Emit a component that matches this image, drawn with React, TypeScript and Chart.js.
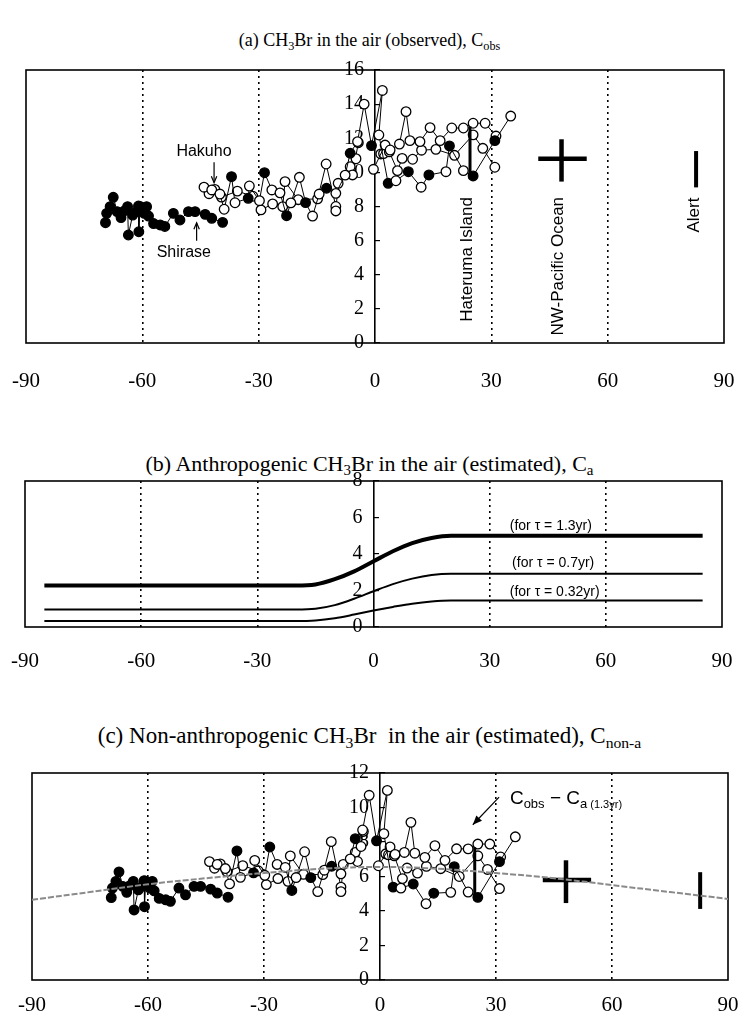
import React, { useEffect, useRef } from 'react';
import { Chart, registerables } from 'chart.js';
Chart.register(...registerables);

const W = 739;
const SERIF = '"Liberation Serif", "Times New Roman", serif';
const SANS = '"Liberation Sans", Arial, sans-serif';

// ---------------- data ----------------
const xMin = -90;
const xMax = 90;
const xStep = 30;
const dottedLats = [-60, -30, 30, 60];

// (a) observed CH3Br, Shirase cruise (southern part, filled circles)
const shiraseLat = [-69.5, -69.2, -68.3, -67.5, -66.5, -65.5, -64.6, -63.8, -63.6, -62.5, -61.5, -61.0, -60.9, -60.6, -59.5, -58.9, -58.4, -57.1, -55.4, -54.2, -52.0, -50.3, -48.1, -46.4, -43.8, -42.1, -39.3];
const shiraseVal = [7.05, 7.6, 7.99, 8.54, 7.7, 7.35, 7.75, 7.99, 6.33, 7.5, 7.7, 8.03, 6.52, 8.0, 7.6, 7.99, 7.44, 7.0, 6.92, 6.83, 7.6, 7.21, 7.7, 7.7, 7.54, 7.31, 7.07];

// (a) Hakuho cruise, main track (1 = filled marker, 0 = open marker)
const hakuhoALat = [-44.1, -42.1, -40.0, -38.9, -37.0, -36.1, -32.7, -32.4, -29.8, -28.5, -26.6, -24.5, -22.8, -21.7, -19.5, -17.9, -16.1, -14.4, -12.5, -10.1, -7.7, -6.4, -4.5, -2.8, -0.9, 1.9, 1.0, 3.4, 5.4, 8.6, 11.9, 13.9, 18.3, 19.2, 22.8, 25.3, 30.9, 35.0];
const hakuhoAVal = [9.13, 8.97, 8.73, 7.84, 9.75, 8.22, 8.48, 9.2, 8.34, 9.98, 8.97, 8.8, 7.46, 8.21, 9.71, 8.23, 7.44, 8.73, 9.07, 8.77, 9.84, 11.12, 11.8, 14.0, 11.57, 14.8, 12.19, 9.36, 9.51, 10.04, 9.13, 9.85, 10.04, 11.55, 10.1, 9.79, 11.86, 13.3];
const hakuhoAFilled = [0, 0, 0, 0, 1, 0, 1, 0, 0, 1, 0, 0, 1, 0, 0, 1, 0, 0, 1, 0, 0, 1, 0, 0, 1, 0, 0, 1, 0, 1, 0, 1, 0, 1, 0, 1, 1, 0];

// (a) other open-circle tracks
const hakuhoBLat = [-42.8, -41.3, -39.6, -35.5, -31.5, -29.4, -26.4, -23.8, -23.2, -19.8, -14.8, -12.6, -10.1, -10.1, -9.5, -6.4, -4.9, -5.8, -4.3];
const hakuhoBVal = [8.75, 9.0, 8.55, 8.9, 8.6, 7.8, 8.15, 7.99, 9.46, 8.4, 8.45, 10.49, 8.0, 7.74, 9.36, 10.33, 10.8, 9.85, 11.74];
const hakuhoCLat = [-0.4, 2.6, 3.9, 6.3, 8.0, 9.0, 11.6, 14.2, 16.8, 19.8, 22.8, 25.3, 28.4, 31.2];
const hakuhoCVal = [10.18, 11.6, 11.31, 11.66, 13.56, 11.86, 11.8, 12.62, 11.86, 12.6, 12.6, 12.88, 12.88, 12.13];
const hakuhoDLat = [1.5, 2.2, 3.7, 5.8, 7.0, 9.7, 12.0, 15.7, 20.5, 25.3, 27.8, 30.9];
const hakuhoDVal = [11.08, 11.1, 11.2, 10.1, 10.82, 10.77, 11.3, 11.35, 11.0, 12.2, 11.41, 10.3];

// station ranges
const haterumaLat = [24.5, 24.5];
const haterumaVal = [9.6, 12.7];
const nwPacificHLat = [42.1, 54.6];
const nwPacificHVal = [10.8, 10.8];
const nwPacificVLat = [48.1, 48.1];
const nwPacificVVal = [9.46, 11.94];
const alertLat = [82.8, 82.8];
const alertVal = [9.12, 11.25];

// (b) anthropogenic CH3Br
const caLat = [-85, -20, -15, -10, -5, 0, 5, 10, 15, 20, 85];
const ca13 = [2.27, 2.27, 2.33, 2.62, 3.05, 3.6, 4.15, 4.6, 4.88, 5.0, 5.0];
const ca07 = [0.96, 0.96, 1.0, 1.2, 1.55, 1.96, 2.35, 2.65, 2.85, 2.92, 2.92];
const ca032 = [0.33, 0.33, 0.36, 0.48, 0.68, 0.9, 1.1, 1.28, 1.4, 1.45, 1.45];

// (c) fitted non-anthropogenic curve
const trendLat = [-90, -75, -60, -45, -30, -15, 0, 15, 30, 45, 60, 75, 90];
const trendVal = [4.65, 5.1, 5.55, 5.9, 6.2, 6.45, 6.55, 6.45, 6.2, 5.9, 5.5, 5.1, 4.7];

// ---------------- helpers ----------------
const pts = (lat: number[], val: number[]) => lat.map((x, i) => ({ x, y: val[i] }));
const caAt = (lat: number) => {
  if (lat <= caLat[0]) return ca13[0];
  for (let i = 1; i < caLat.length; i++) {
    if (lat <= caLat[i]) {
      const t = (lat - caLat[i - 1]) / (caLat[i] - caLat[i - 1]);
      return ca13[i - 1] + t * (ca13[i] - ca13[i - 1]);
    }
  }
  return ca13[ca13.length - 1];
};
const minusCa = (lat: number[], val: number[]) => val.map((v, i) => v - caAt(lat[i]));

function frame(T: number, B: number, L: number, R: number, labelY: number, fs: number) {
  const lh = fs * 1.2;
  const pad = labelY - B - lh / 2;
  const canvasTop = T - 15;
  const height = Math.round(B - canvasTop + lh + 2 * pad);
  return { canvasTop, height, pad, padL: L, padR: W - R };
}

const markerSeries = (data: any[], fill: string | string[]) => ({
  data,
  showLine: true,
  borderColor: '#000',
  borderWidth: 1,
  tension: 0,
  pointRadius: 4.8,
  pointHoverRadius: 4.8,
  pointBorderColor: '#000',
  pointBorderWidth: 1.3,
  pointBackgroundColor: fill,
});
const barSeries = (data: any[], w: number) => ({
  data,
  showLine: true,
  borderColor: '#000',
  borderWidth: w,
  borderCapStyle: 'butt',
  pointRadius: 0,
  pointHoverRadius: 0,
});

function obsDatasets(tr: (lat: number[], val: number[]) => number[]) {
  return [
    barSeries(pts(haterumaLat, tr(haterumaLat, haterumaVal)), 3),
    barSeries(pts(nwPacificHLat, tr(nwPacificHLat, nwPacificHVal)), 4.5),
    barSeries(pts(nwPacificVLat, tr(nwPacificVLat, nwPacificVVal)), 4.5),
    barSeries(pts(alertLat, tr(alertLat, alertVal)), 4),
    markerSeries(pts(hakuhoALat, tr(hakuhoALat, hakuhoAVal)), hakuhoAFilled.map((f) => (f ? '#000' : '#fff'))),
    markerSeries(pts(hakuhoCLat, tr(hakuhoCLat, hakuhoCVal)), '#fff'),
    markerSeries(pts(hakuhoDLat, tr(hakuhoDLat, hakuhoDVal)), '#fff'),
    markerSeries(pts(hakuhoBLat, tr(hakuhoBLat, hakuhoBVal)), '#fff'),
    markerSeries(pts(shiraseLat, tr(shiraseLat, shiraseVal)), '#000'),
  ];
}

const boxPlugin = {
  id: 'box',
  beforeDatasetsDraw(chart: any) {
    const { ctx, chartArea } = chart;
    ctx.save();
    ctx.strokeStyle = '#000';
    ctx.lineWidth = 1.6;
    ctx.strokeRect(chartArea.left, chartArea.top, chartArea.right - chartArea.left, chartArea.bottom - chartArea.top);
    ctx.restore();
  },
};

function drawArrow(ctx: any, x1: number, y1: number, x2: number, y2: number, head: number, filled: boolean) {
  ctx.beginPath();
  ctx.moveTo(x1, y1);
  ctx.lineTo(x2, y2);
  ctx.stroke();
  const a = Math.atan2(y2 - y1, x2 - x1);
  const h1x = x2 - head * Math.cos(a - 0.4), h1y = y2 - head * Math.sin(a - 0.4);
  const h2x = x2 - head * Math.cos(a + 0.4), h2y = y2 - head * Math.sin(a + 0.4);
  ctx.beginPath();
  if (filled) {
    ctx.moveTo(x2, y2);
    ctx.lineTo(h1x, h1y);
    ctx.lineTo(h2x, h2y);
    ctx.closePath();
    ctx.fill();
  } else {
    ctx.moveTo(h1x, h1y);
    ctx.lineTo(x2, y2);
    ctx.lineTo(h2x, h2y);
    ctx.stroke();
  }
}

function annotPlugin(items: any[]) {
  return {
    id: 'annot',
    afterDatasetsDraw(chart: any) {
      const { ctx } = chart;
      const sx = chart.scales.x, sy = chart.scales.y;
      ctx.save();
      ctx.fillStyle = '#000';
      ctx.strokeStyle = '#000';
      for (const it of items) {
        if (it.kind === 'text') {
          ctx.save();
          ctx.translate(sx.getPixelForValue(it.x), sy.getPixelForValue(it.y));
          if (it.rot) ctx.rotate(it.rot);
          ctx.font = it.font;
          ctx.textAlign = 'center';
          ctx.textBaseline = 'middle';
          ctx.fillText(it.text, 0, 0);
          ctx.restore();
        } else if (it.kind === 'rich') {
          let px = sx.getPixelForValue(it.x);
          const py = sy.getPixelForValue(it.y);
          ctx.textAlign = 'left';
          ctx.textBaseline = 'alphabetic';
          for (const s of it.parts) {
            ctx.font = `${s.size}px ${SANS}`;
            ctx.fillText(s.t, px, py + s.dy);
            px += ctx.measureText(s.t).width;
          }
        } else if (it.kind === 'arrow') {
          ctx.lineWidth = it.w || 1.2;
          drawArrow(ctx, sx.getPixelForValue(it.x1), sy.getPixelForValue(it.y1), sx.getPixelForValue(it.x2), sy.getPixelForValue(it.y2), it.head, it.filled);
        }
      }
      ctx.restore();
    },
  };
}

const noOverhang = (s: any) => {
  s.paddingLeft = 0;
  s.paddingRight = 0;
  s.paddingTop = 0;
  s.paddingBottom = 0;
};

function makeOptions(f: any, yMax: number) {
  return {
    responsive: false,
    maintainAspectRatio: false,
    animation: false,
    events: [],
    layout: { padding: { left: f.padL, right: f.padR, top: 15, bottom: 0 } },
    plugins: { legend: { display: false }, tooltip: { enabled: false }, title: { display: false } },
    scales: {
      x: {
        type: 'linear',
        min: xMin,
        max: xMax,
        position: 'bottom',
        afterFit: noOverhang,
        ticks: { stepSize: xStep, padding: f.pad, color: '#000', font: { family: SERIF, size: 21 }, maxRotation: 0, autoSkip: false },
        grid: {
          drawTicks: false,
          lineWidth: 1.6,
          color: (c: any) => (c.tick && dottedLats.includes(c.tick.value) ? '#000' : 'rgba(0,0,0,0)'),
        },
        border: { display: false, dash: [2, 4] },
      },
      y: {
        type: 'linear',
        min: 0,
        max: yMax,
        position: 'center',
        afterFit: noOverhang,
        ticks: { stepSize: 2, padding: 17, color: '#000', font: { family: SERIF, size: 20 } },
        grid: { drawOnChartArea: false, drawTicks: true, tickLength: -6, color: '#000', lineWidth: 1.2 },
        border: { display: true, color: '#000', width: 1.6 },
      },
    },
  };
}

// ---------------- frames ----------------
const fA = frame(70, 343, 26, 724, 381, 21);
const fB = frame(481, 627, 25, 722, 661, 21);
const fC = frame(773, 980, 32, 728, 1005, 21);

function buildA() {
  return {
    type: 'scatter',
    data: { datasets: obsDatasets((lat, val) => val) },
    options: makeOptions(fA, 16),
    plugins: [
      boxPlugin,
      annotPlugin([
        { kind: 'text', text: 'Hakuho', x: -44.1, y: 11.2, font: `16px ${SANS}` },
        { kind: 'arrow', x1: -41.5, y1: 10.6, x2: -41.5, y2: 9.4, head: 7, filled: false },
        { kind: 'text', text: 'Shirase', x: -49.3, y: 5.28, font: `16px ${SANS}` },
        { kind: 'arrow', x1: -46, y1: 6.0, x2: -46, y2: 7.05, head: 7, filled: false },
        { kind: 'text', text: 'Hateruma Island', x: 23.7, y: 4.9, rot: -Math.PI / 2, font: `17px ${SANS}` },
        { kind: 'text', text: 'NW-Pacific Ocean', x: 47.4, y: 4.5, rot: -Math.PI / 2, font: `17px ${SANS}` },
        { kind: 'text', text: 'Alert', x: 82.3, y: 7.5, rot: -Math.PI / 2, font: `17px ${SANS}` },
      ]),
    ],
  };
}

function buildB() {
  const curve = (val: number[], w: number) => ({
    data: pts(caLat, val),
    showLine: true,
    borderColor: '#000',
    borderWidth: w,
    pointRadius: 0,
    pointHoverRadius: 0,
    cubicInterpolationMode: 'monotone',
  });
  return {
    type: 'scatter',
    data: { datasets: [curve(ca13, 4), curve(ca07, 2), curve(ca032, 2)] },
    options: makeOptions(fB, 8),
    plugins: [
      boxPlugin,
      annotPlugin([
        { kind: 'text', text: '(for τ = 1.3yr)', x: 45.8, y: 5.5, font: `14px ${SANS}` },
        { kind: 'text', text: '(for τ = 0.7yr)', x: 46.4, y: 3.5, font: `14px ${SANS}` },
        { kind: 'text', text: '(for τ = 0.32yr)', x: 46.8, y: 1.9, font: `14px ${SANS}` },
      ]),
    ],
  };
}

function buildC() {
  const trend = {
    data: pts(trendLat, trendVal),
    showLine: true,
    borderColor: '#8a8a8a',
    borderWidth: 2,
    borderDash: [6, 2],
    pointRadius: 0,
    pointHoverRadius: 0,
    tension: 0.4,
  };
  return {
    type: 'scatter',
    data: { datasets: [trend, ...obsDatasets(minusCa)] },
    options: makeOptions(fC, 12),
    plugins: [
      boxPlugin,
      annotPlugin([
        {
          kind: 'rich',
          x: 33.6,
          y: 10.2,
          parts: [
            { t: 'C', size: 19, dy: 0 },
            { t: 'obs', size: 13, dy: 4 },
            { t: ' − ', size: 19, dy: 0 },
            { t: 'C', size: 19, dy: 0 },
            { t: 'a', size: 13, dy: 4 },
            { t: ' (1.3yr)', size: 11, dy: 4 },
          ],
        },
        { kind: 'arrow', x1: 30.8, y1: 10.6, x2: 24.0, y2: 9.0, head: 10, filled: true },
      ]),
    ],
  };
}

function ChartCanvas({ top, height, build }: { top: number; height: number; build: () => any }) {
  const ref = useRef<HTMLCanvasElement>(null);
  useEffect(() => {
    const chart = new Chart(ref.current as HTMLCanvasElement, build());
    return () => chart.destroy();
  }, []);
  return (
    <canvas
      ref={ref}
      width={W}
      height={height}
      style={{ position: 'absolute', left: 0, top, width: W, height, display: 'block' }}
    />
  );
}

const subStyle: React.CSSProperties = { fontSize: '0.68em', verticalAlign: '-0.3em', lineHeight: 0 };

function Title({ y, size, children }: { y: number; size: number; children: React.ReactNode }) {
  return (
    <div
      style={{
        position: 'absolute',
        left: 0,
        top: y - 14,
        width: W,
        textAlign: 'center',
        fontFamily: SERIF,
        fontSize: size,
        lineHeight: '28px',
        whiteSpace: 'pre',
        color: '#000',
      }}
    >
      {children}
    </div>
  );
}

export default function App() {
  return (
    <div style={{ position: 'absolute', left: 0, top: 0, width: W, height: 1022, overflow: 'hidden', background: '#fff' }}>
      <Title y={40} size={18}>
        (a) CH<sub style={subStyle}>3</sub>Br in the air (observed), C<sub style={subStyle}>obs</sub>
      </Title>
      <ChartCanvas top={fA.canvasTop} height={fA.height} build={buildA} />
      <Title y={464} size={22}>
        (b) Anthropogenic CH<sub style={subStyle}>3</sub>Br in the air (estimated), C<sub style={subStyle}>a</sub>
      </Title>
      <ChartCanvas top={fB.canvasTop} height={fB.height} build={buildB} />
      <Title y={736} size={23}>
        (c) Non-anthropogenic CH<sub style={subStyle}>3</sub>Br  in the air (estimated), C<sub style={subStyle}>non-a</sub>
      </Title>
      <ChartCanvas top={fC.canvasTop} height={fC.height} build={buildC} />
    </div>
  );
}
